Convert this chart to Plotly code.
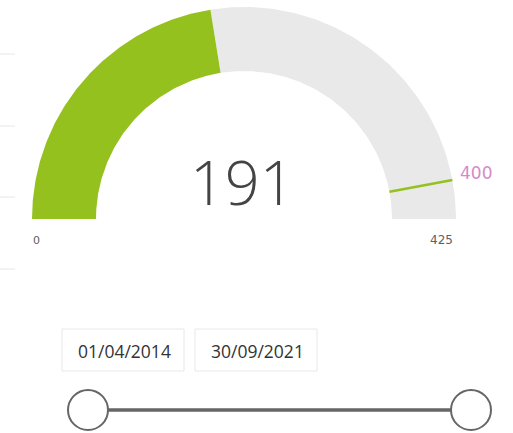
import numpy as np
import plotly.graph_objects as go

# ---- data ----
gauge_min = 0
gauge_max = 425
gauge_value = 191
gauge_target = 400
date_start = "2014-04-01"
date_end = "2021-09-30"
date_labels = ["01/04/2014", "30/09/2021"]

# ---- geometry (pixel-space axes) ----
W, H = 513, 433
CX, CY = 244, 219
R_OUT, R_IN = 212, 148

GREEN = "#95c11f"
GREY = "#e9e9e9"
PINK = "#d58ac8"
TXT = "#444444"


def theta(v):
    return np.pi * (1 - (v - gauge_min) / (gauge_max - gauge_min))


def wedge(v0, v1, n=120):
    t = np.linspace(theta(v0), theta(v1), n)
    xo = CX + R_OUT * np.cos(t)
    yo = CY - R_OUT * np.sin(t)
    xi = CX + R_IN * np.cos(t[::-1])
    yi = CY - R_IN * np.sin(t[::-1])
    return np.concatenate([xo, xi, xo[:1]]), np.concatenate([yo, yi, yo[:1]])


fig = go.Figure()

x, y = wedge(gauge_value, gauge_max)
fig.add_trace(go.Scatter(x=x, y=y, fill="toself", fillcolor=GREY, mode="lines",
                         line=dict(width=0, color=GREY), hoverinfo="skip", showlegend=False))
x, y = wedge(gauge_min, gauge_value)
fig.add_trace(go.Scatter(x=x, y=y, fill="toself", fillcolor=GREEN, mode="lines",
                         line=dict(width=0, color=GREEN), hoverinfo="skip", showlegend=False))
tt = theta(gauge_target)
fig.add_trace(go.Scatter(x=[CX + R_IN * np.cos(tt), CX + R_OUT * np.cos(tt)],
                         y=[CY - R_IN * np.sin(tt), CY - R_OUT * np.sin(tt)],
                         mode="lines", line=dict(color=GREEN, width=2.5),
                         hoverinfo="skip", showlegend=False))

annotations = [
    dict(x=CX - 2, y=181, text=str(gauge_value), showarrow=False,
         font=dict(family="Open Sans", size=61, color=TXT, weight=300),
         xanchor="center", yanchor="middle"),
    dict(x=CX - R_OUT + 4, y=240, text=str(gauge_min), showarrow=False,
         font=dict(family="DejaVu Sans", size=11, color="#606060"), xanchor="center", yanchor="middle"),
    dict(x=CX + 197, y=240, text=str(gauge_max), showarrow=False,
         font=dict(family="DejaVu Sans", size=12, color="#606060"), xanchor="center", yanchor="middle"),
    dict(x=CX + R_OUT * np.cos(tt) + 6, y=CY - R_OUT * np.sin(tt) - 7, text=str(gauge_target),
         showarrow=False, font=dict(family="DejaVu Sans", size=17, color=PINK),
         xanchor="left", yanchor="middle"),
]

shapes = []
for gy in [54, 126, 197, 269]:
    shapes.append(dict(type="line", x0=0, x1=15, y0=gy, y1=gy, xref="x", yref="y",
                       line=dict(color="#e6e6e6", width=1)))

for lbl, bx in zip(date_labels, [62, 195]):
    shapes.append(dict(type="rect", x0=bx, x1=bx + 122, y0=329, y1=371, xref="x", yref="y",
                       line=dict(color="#e8e8e8", width=1), fillcolor="white"))
    annotations.append(dict(x=bx + 62, y=351, text=lbl, showarrow=False,
                            font=dict(family="Open Sans", size=17.5, color="#333333"),
                            xanchor="center", yanchor="middle"))

fig.add_trace(go.Scatter(x=[date_start, date_end], y=[0, 0], xaxis="x2", yaxis="y2",
                         mode="lines+markers", line=dict(color="#666666", width=3.5),
                         marker=dict(size=40, color="white", line=dict(color="#666666", width=2)),
                         hoverinfo="skip", showlegend=False, cliponaxis=False))

fig.update_layout(
    width=W, height=H, margin=dict(l=0, r=0, t=0, b=0),
    paper_bgcolor="white", plot_bgcolor="white",
    xaxis=dict(range=[0, W], visible=False, fixedrange=True, domain=[0, 1]),
    yaxis=dict(range=[H, 0], visible=False, fixedrange=True, domain=[0, 1]),
    xaxis2=dict(range=[date_start, date_end], type="date", visible=False,
                domain=[88 / W, 471 / W], anchor="y2", fixedrange=True),
    yaxis2=dict(range=[-1, 1], visible=False, domain=[0, 46 / H], anchor="x2", fixedrange=True),
    annotations=annotations, shapes=shapes,
)

fig.write_html("out.html", config={"displayModeBar": False},
               post_script="document.body.style.margin='0';document.body.style.overflow='hidden';")
